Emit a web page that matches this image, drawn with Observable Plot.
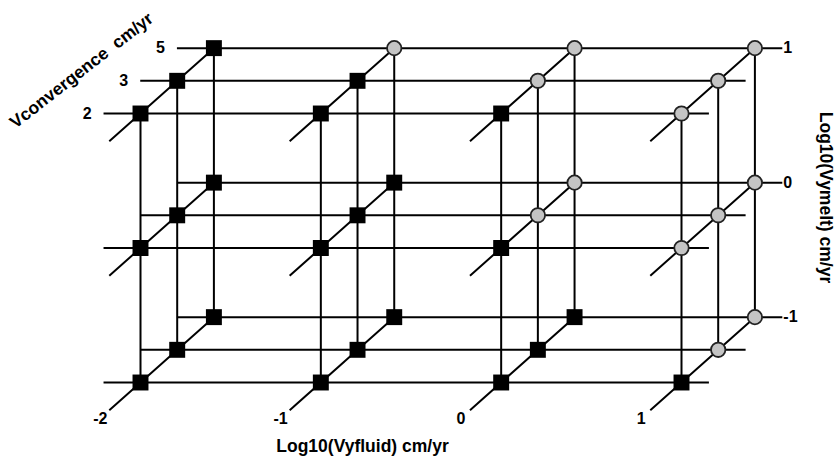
<!DOCTYPE html>
<html>
<head>
<meta charset="utf-8">
<script src="https://cdn.jsdelivr.net/npm/d3@7"></script>
<script src="https://cdn.jsdelivr.net/npm/@observablehq/plot@0.6"></script>
<style>
  html, body { margin: 0; padding: 0; background: #fff; }
  #chart svg { display: block; }
</style>
</head>
<body>
<div id="chart"></div>
<script>
// Axis values
const fluidValues = [-2, -1, 0, 1];        // Log10(Vyfluid) cm/yr
const convergenceValues = [2, 3, 5];       // Vconvergence cm/yr (depth axis)
const meltValues = [-1, 0, 1];             // Log10(Vymelt) cm/yr

// Grid nodes shown as grey circles: [fluid, melt, convergence]; all others are black squares
const circleNodes = [
  [-1, 1, 5],
  [0, 1, 3], [0, 1, 5],
  [0, 0, 3], [0, 0, 5],
  [1, 1, 2], [1, 1, 3], [1, 1, 5],
  [1, 0, 2], [1, 0, 3], [1, 0, 5],
  [1, -1, 3], [1, -1, 5]
];

// Axis titles
const fluidTitle = "Log10(Vyfluid) cm/yr";
const meltTitle = "Log10(Vymelt) cm/yr";
const convTitle = "Vconvergence  cm/yr";

// Oblique projection of the depth axis (convergence index) onto x/y data units
const depthDX = 0.2035, depthDY = 0.243;
const kOf = c => convergenceValues.indexOf(c);
const px = (f, k) => f + k * depthDX;
const py = (m, k) => m + k * depthDY;
const extL = 0.205, extR = 0.152, extFront = -0.85;
const kBack = convergenceValues.length - 1;

// Build segment tables
const horiz = [];
for (const m of meltValues) for (const c of convergenceValues) {
  const k = kOf(c);
  horiz.push({x1: px(fluidValues[0] - extL, k), x2: px(fluidValues[fluidValues.length - 1] + extR, k), y1: py(m, k), y2: py(m, k)});
}
const vert = [];
for (const f of fluidValues) for (const c of convergenceValues) {
  const k = kOf(c);
  vert.push({x1: px(f, k), x2: px(f, k), y1: py(meltValues[0], k), y2: py(meltValues[meltValues.length - 1], k)});
}
const diag = [];
for (const f of fluidValues) for (const m of meltValues) {
  diag.push({x1: px(f, extFront), y1: py(m, extFront), x2: px(f, kBack), y2: py(m, kBack)});
}
const nodes = [];
for (const f of fluidValues) for (const m of meltValues) for (const c of convergenceValues) {
  const k = kOf(c);
  const circ = circleNodes.some(d => d[0] === f && d[1] === m && d[2] === c);
  nodes.push({x: px(f, k), y: py(m, k), type: circ ? "circle" : "square"});
}
const fluidLabels = fluidValues.map(f => ({x: px(f, extFront), y: py(meltValues[0], extFront), t: String(f)}));
const convLabels = convergenceValues.map(c => ({x: px(fluidValues[0] - extL, kOf(c)), y: py(meltValues[meltValues.length - 1], kOf(c)), t: String(c)}));
const meltLabels = meltValues.map(m => ({x: px(fluidValues[fluidValues.length - 1] + extR, kBack), y: py(m, kBack), t: String(m)}));

const font = "'Liberation Sans', Arial, Helvetica, sans-serif";
const titleStyle = {frameAnchor: "top-left", textAnchor: "middle", lineAnchor: "middle", fontSize: 17.5, fontWeight: "bold", fill: "#000"};

const chart = Plot.plot({
  width: 835,
  height: 456,
  margin: 0,
  style: {fontFamily: font, background: "#fff"},
  x: {domain: [-2, 1], range: [140, 681], axis: null},
  y: {domain: [-1, 1], range: [382, 113], axis: null},
  marks: [
    Plot.link(horiz, {x1: "x1", y1: "y1", x2: "x2", y2: "y2", stroke: "#000", strokeWidth: 2}),
    Plot.link(vert, {x1: "x1", y1: "y1", x2: "x2", y2: "y2", stroke: "#000", strokeWidth: 2}),
    Plot.link(diag, {x1: "x1", y1: "y1", x2: "x2", y2: "y2", stroke: "#000", strokeWidth: 2}),
    Plot.dot(nodes.filter(d => d.type === "square"), {x: "x", y: "y", symbol: "square", r: 9, fill: "#000", stroke: "none"}),
    Plot.dot(nodes.filter(d => d.type === "circle"), {x: "x", y: "y", symbol: "circle", r: 7.2, fill: "#c4c4c4", stroke: "#222", strokeWidth: 1.8}),
    Plot.text(fluidLabels, {x: "x", y: "y", text: "t", dx: -9, dy: 9, fontSize: 16, fontWeight: "bold", fill: "#000"}),
    Plot.text(convLabels, {x: "x", y: "y", text: "t", dx: -12, textAnchor: "end", fontSize: 16, fontWeight: "bold", fill: "#000"}),
    Plot.text(meltLabels, {x: "x", y: "y", text: "t", dx: 1, textAnchor: "start", fontSize: 16, fontWeight: "bold", fill: "#000"}),
    Plot.text([fluidTitle], {...titleStyle, dx: 362, dy: 446}),
    Plot.text([meltTitle], {...titleStyle, dx: 825, dy: 197, rotate: 90}),
    Plot.text([convTitle], {...titleStyle, dx: 81, dy: 70, rotate: -38})
  ]
});
document.getElementById("chart").appendChild(chart);
</script>
</body>
</html>
